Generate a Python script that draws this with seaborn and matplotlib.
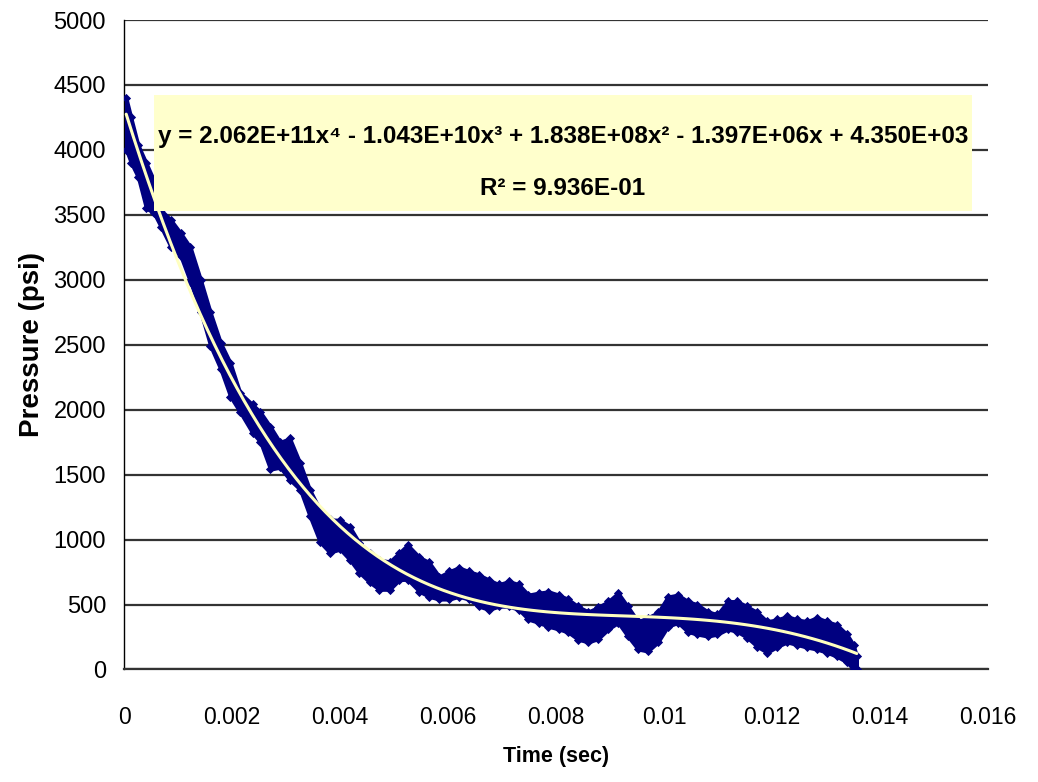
import numpy as np
import matplotlib
matplotlib.use('Agg')
import matplotlib.pyplot as plt
import seaborn as sns
from matplotlib.patches import Rectangle

# Time (sec) samples read along the recorded pressure band
time_s = [0.00004, 0.00013, 0.00026, 0.00041, 0.00055, 0.00068, 0.00087, 0.00105,
          0.00123, 0.00142, 0.00160, 0.00179, 0.00197, 0.00215, 0.00238, 0.00252,
          0.00271, 0.00289, 0.00307, 0.00326, 0.00344, 0.00363, 0.00381, 0.00400,
          0.00418, 0.00436, 0.00455, 0.00473, 0.00492, 0.00510, 0.00525, 0.00547,
          0.00565, 0.00584, 0.00602, 0.00620, 0.00639, 0.00657, 0.00676, 0.00694,
          0.00713, 0.00731, 0.00749, 0.00768, 0.00786, 0.00805, 0.00823, 0.00841,
          0.00860, 0.00878, 0.00897, 0.00915, 0.00933, 0.00952, 0.00970, 0.00989,
          0.01007, 0.01026, 0.01044, 0.01062, 0.01081, 0.01099, 0.01118, 0.01136,
          0.01154, 0.01173, 0.01191, 0.01210, 0.01228, 0.01246, 0.01265, 0.01283,
          0.01302, 0.01320, 0.01339, 0.01351, 0.01357]

# upper / lower edge of the oscillating pressure band (psi)
p_upper = [4400, 4250, 4040, 3900, 3770, 3540, 3460, 3360,
           3250, 3000, 2750, 2515, 2360, 2130, 2040, 1985,
           1870, 1750, 1780, 1590, 1385, 1230, 1155, 1150,
           1100, 975, 900, 845, 830, 900, 960, 865,
           825, 715, 755, 785, 755, 730, 690, 655,
           680, 655, 575, 590, 600, 575, 540, 485,
           445, 480, 525, 590, 485, 370, 400, 440,
           560, 575, 525, 500, 445, 425, 525, 525,
           485, 440, 370, 385, 410, 385, 370, 400,
           370, 345, 270, 190, 100]
p_lower = [4000, 3900, 3790, 3550, 3515, 3410, 3250, 3180,
           2980, 2750, 2490, 2310, 2100, 1980, 1820, 1755,
           1540, 1555, 1460, 1385, 1180, 980, 900, 925,
           845, 745, 670, 615, 615, 690, 692, 600,
           560, 540, 540, 560, 540, 485, 460, 485,
           485, 460, 385, 360, 330, 310, 285, 230,
           210, 235, 310, 360, 255, 155, 140, 210,
           330, 360, 290, 270, 255, 270, 310, 290,
           245, 175, 130, 175, 210, 190, 170, 155,
           130, 100, 55, 0, 0]

y_ticks = [0, 500, 1000, 1500, 2000, 2500, 3000, 3500, 4000, 4500, 5000]
x_ticks = [0, 0.002, 0.004, 0.006, 0.008, 0.01, 0.012, 0.014, 0.016]
x_tick_labels = ['0', '0.002', '0.004', '0.006', '0.008', '0.01', '0.012', '0.014', '0.016']

eq_text = 'y = 2.062E+11x\u2074 - 1.043E+10x\u00b3 + 1.838E+08x\u00b2 - 1.397E+06x + 4.350E+03'
r2_text = 'R\u00b2 = 9.936E-01'

sns.set_style('white')
plt.rcParams['font.family'] = ['Liberation Sans', 'DejaVu Sans']
plt.rcParams['text.color'] = 'black'
plt.rcParams['axes.labelcolor'] = 'black'
plt.rcParams['xtick.color'] = 'black'
plt.rcParams['ytick.color'] = 'black'

fig = plt.figure(figsize=(10.38, 7.82), dpi=100)
ax = fig.add_axes([0.1195, 0.1439, 0.8323, 0.8305])

navy = '#000080'
t = np.array(time_s)
up = np.array(p_upper)
lo = np.array(p_lower)
ax.fill_between(t, lo, up, color=navy, edgecolor=navy, linewidth=2.5, zorder=3)
# diamond markers along the band edges, as in the raw scatter
sns.scatterplot(x=np.concatenate([t, t]), y=np.concatenate([up, lo]), marker='D',
                s=22, color=navy, edgecolor=navy, linewidth=0, ax=ax, zorder=3)

# 4th order polynomial trendline fitted by seaborn
sns.regplot(x=np.concatenate([t, t]), y=np.concatenate([up, lo]), order=4,
            ci=None, scatter=False, ax=ax,
            line_kws=dict(color='#FFFFC0', linewidth=2.2, zorder=4))

ax.set_xlim(0, 0.016)
ax.set_ylim(0, 5000)
ax.set_yticks(y_ticks)
ax.set_xticks(x_ticks)
ax.set_xticklabels(x_tick_labels)
ax.yaxis.grid(True, color='#333333', linewidth=1.6, zorder=1)
ax.xaxis.grid(False)
ax.set_axisbelow(True)
for s in ['top', 'right']:
    ax.spines[s].set_visible(False)
ax.spines['left'].set_color('black')
ax.spines['left'].set_linewidth(1.0)
ax.spines['bottom'].set_color('#333333')
ax.spines['bottom'].set_linewidth(1.6)

ax.tick_params(axis='y', direction='inout', length=10, width=1, color='black',
               pad=8, labelsize=17)
ax.tick_params(axis='x', direction='out', length=7.5, width=1, color='black',
               pad=19, labelsize=16.5)

ax.set_xlabel('Time (sec)', fontsize=15.5, fontweight='bold')
ax.xaxis.set_label_coords(0.5, -0.118)
ax.set_ylabel('Pressure (psi)', fontsize=20, fontweight='bold')
ax.yaxis.set_label_coords(-0.092, 0.5)

# equation box
ax.add_patch(Rectangle((0.000556, 3527), 0.0157 - 0.000556, 4419 - 3527,
                       facecolor='#FFFFCC', edgecolor='none', zorder=6))
eq = ax.text(0.00813, 4050, eq_text, ha='center', va='baseline', fontsize=18,
             fontweight='bold', color='black', zorder=7)
r2 = ax.text(0.00813, 3650, r2_text, ha='center', va='baseline', fontsize=18,
             fontweight='bold', color='black', zorder=7)

# fit the equation line to the width of the box text (about 810 px)
fig.canvas.draw()
w = eq.get_window_extent().width
size = 18 * 810 / w
eq.set_fontsize(size)
r2.set_fontsize(size)

fig.savefig('out.png', dpi=100)
